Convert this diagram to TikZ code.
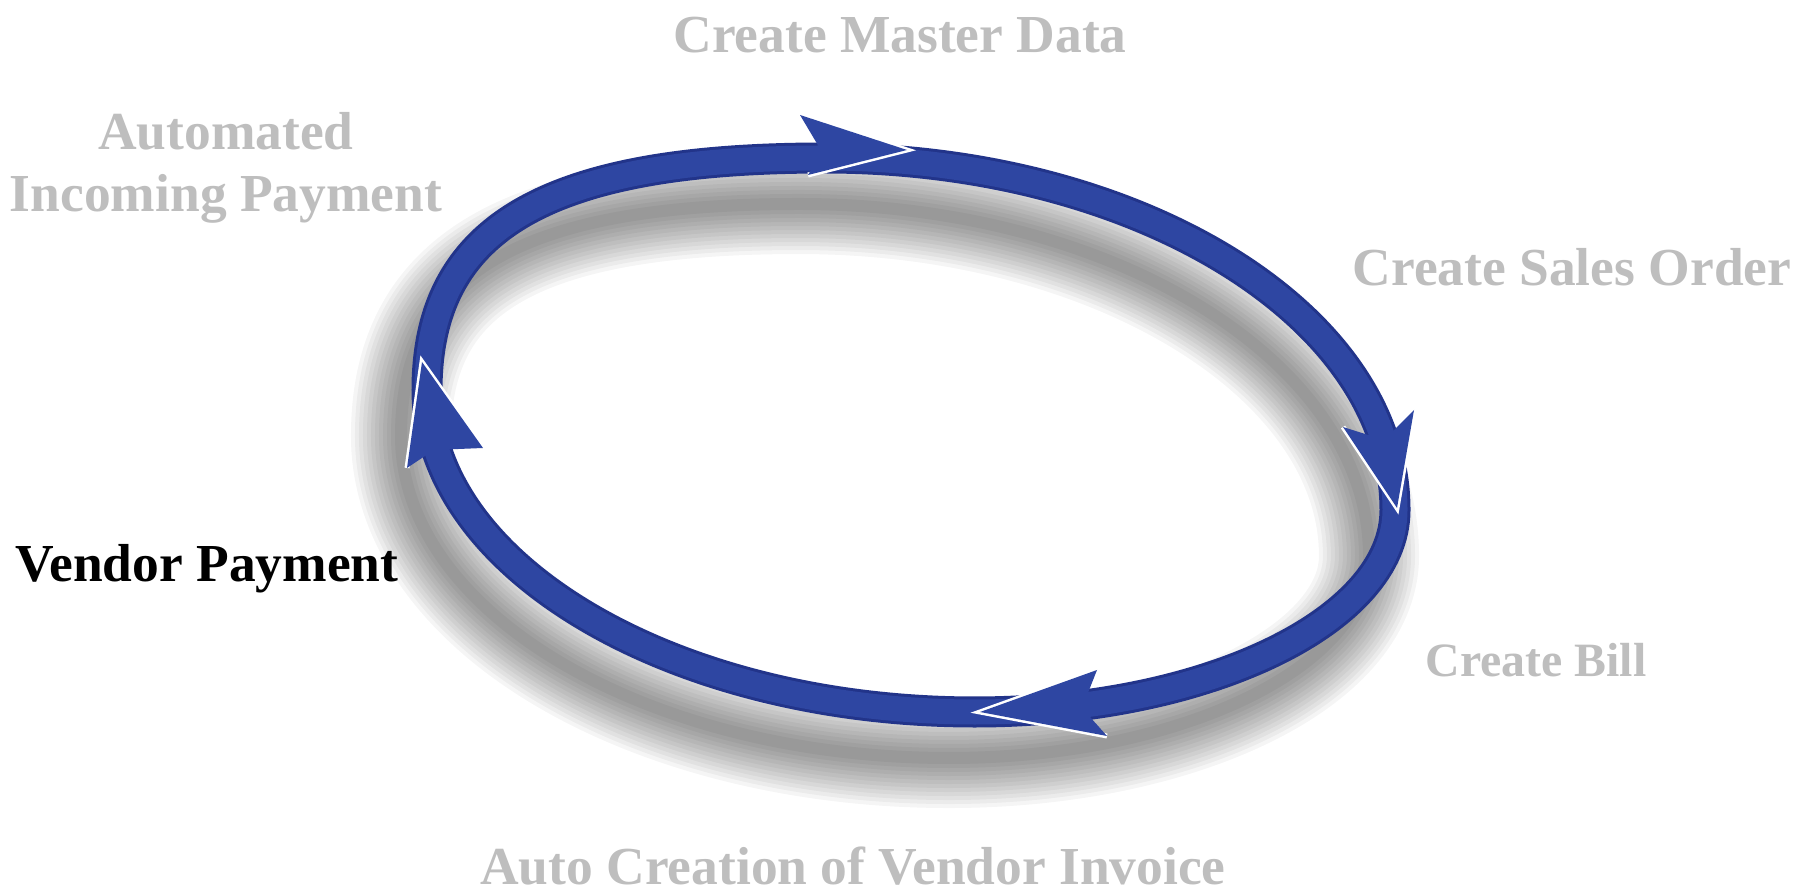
\documentclass[tikz,border=0pt]{standalone}
\usepackage{fontspec}
\setmainfont{Liberation Serif}
\begin{document}
\begin{tikzpicture}[x=0.01cm,y=-0.01cm]
\definecolor{ringblue}{RGB}{46,70,162}
\definecolor{ringdark}{RGB}{34,52,138}
\definecolor{labelgrey}{RGB}{190,190,190}
\tikzset{
  lbl/.style={font=\fontsize{15.2pt}{18pt}\selectfont\bfseries, text=labelgrey, inner sep=0pt, anchor=base},
  headwhite/.style={white, line width=5*0.2845pt, line join=miter},
  headfill/.style={fill=ringblue},
}
\newcommand{\ringcurve}{(427,390) .. controls (427,228) and (546,158) .. (825,158)
  .. controls (1139,158) and (1395,316) .. (1395,510)
  .. controls (1395,621) and (1206,712) .. (975,712)
  .. controls (674,712) and (427,567) .. (427,390) -- cycle}
\useasboundingbox (0,0) rectangle (1797,892);
\fill[white] (0,0) rectangle (1797,892);
% shadow
\begin{scope}[shift={(-26,46)}]
\foreach \w in {100,92,...,8}
  \draw[black, opacity=0.04, line width=\w*0.2845pt] \ringcurve;
\end{scope}
% ring
\draw[ringdark, line width=31*0.2845pt] \ringcurve;
\draw[ringblue, line width=25*0.2845pt] \ringcurve;
% arrow heads
\coordinate (tT) at (907,150); \coordinate (tA) at (800,115); \coordinate (tB) at (808,175); \coordinate (tK) at (822,152);
\coordinate (rT) at (1397,508); \coordinate (rA) at (1414,410); \coordinate (rB) at (1343,427); \coordinate (rK) at (1384,440);
\coordinate (bT) at (980,712); \coordinate (bA) at (1097,670); \coordinate (bB) at (1107,736); \coordinate (bK) at (1082,708);
\coordinate (lT) at (422,362); \coordinate (lA) at (483,448); \coordinate (lB) at (407,468); \coordinate (lK) at (434,450);
\foreach \h in {t,r,b,l}{
  \draw[headwhite] (\h A) -- (\h T) -- (\h B);
  \fill[headfill] (\h T) -- (\h A) -- (\h K) -- (\h B) -- cycle;
}
% labels
\node[lbl] (cmd) at (900,53) {Create Master Data};
\node[lbl] (aip1) at (226,150) {Automated};
\node[lbl] (aip2) at (226,212) {Incoming Payment};
\node[lbl] (cso) at (1572,286) {Create Sales Order};
\node[lbl, text=black] (vp) at (207,582) {Vendor Payment};
\node[lbl, font=\fontsize{13.6pt}{16pt}\selectfont\bfseries] (cb) at (1536,677) {Create Bill};
\node[lbl] (acvi) at (853,885) {Auto Creation of Vendor Invoice};
\end{tikzpicture}
\end{document}
